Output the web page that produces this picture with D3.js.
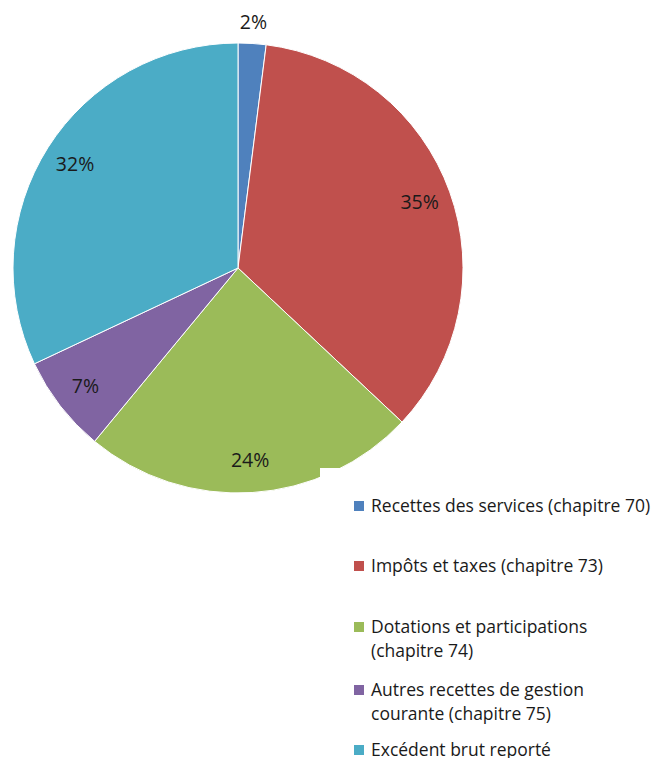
<!DOCTYPE html>
<html>
<head>
<meta charset="utf-8">
<script src="https://cdn.jsdelivr.net/npm/d3@7"></script>
<style>
  body { margin: 0; background: #fff; }
  text { font-family: "Open Sans", Lato, sans-serif; fill: #1a1a1a; }
</style>
</head>
<body>
<div id="chart"></div>
<script>
// data
var categories = ["Recettes des services (chapitre 70)", "Impôts et taxes (chapitre 73)",
    "Dotations et participations (chapitre 74)", "Autres recettes de gestion courante (chapitre 75)",
    "Excédent brut reporté"];
var values = [2, 35, 24, 7, 32];
var labels = ["2%", "35%", "24%", "7%", "32%"];
var legendLines = [["Recettes des services (chapitre 70)"], ["Impôts et taxes (chapitre 73)"],
    ["Dotations et participations", "(chapitre 74)"], ["Autres recettes de gestion", "courante (chapitre 75)"],
    ["Excédent brut reporté"]];
var colors = ["#4F81BD", "#C0504D", "#9BBB59", "#8064A2", "#4BACC6"];

function init() {
    var w = 660, h = 758;
    var cx = 238, cy = 268, r = 225;

    var svg = d3.select("#chart").append("svg")
        .attr("width", w).attr("height", h);

    var pie = d3.pie().sort(null).value(function (d) { return d; });
    var arcs = pie(values);
    var arc = d3.arc().innerRadius(0).outerRadius(r);

    var g = svg.append("g").attr("transform", "translate(" + cx + "," + cy + ")");

    g.selectAll("path").data(arcs).enter().append("path")
        .attr("d", arc)
        .attr("fill", function (d, i) { return colors[i]; })
        .attr("stroke", "#fff")
        .attr("stroke-width", 1);

    //labels: inside at r 193, small slice outside
    g.selectAll("text.lbl").data(arcs).enter().append("text")
        .attr("class", "lbl")
        .attr("transform", function (d) {
            var rr = (d.endAngle - d.startAngle) < 0.2 ? 246 : 193;
            var a = (d.startAngle + d.endAngle) / 2;
            return "translate(" + (Math.sin(a) * rr) + "," + (-Math.cos(a) * rr) + ")";
        })
        .attr("text-anchor", "middle")
        .attr("dy", "0.35em")
        .style("font-size", "19.5px")
        .text(function (d, i) { return labels[i]; });

    //legend box (white, sits over the pie)
    svg.append("rect")
        .attr("x", 320).attr("y", 468)
        .attr("width", w - 320).attr("height", h - 468)
        .attr("fill", "#fff");

    var rowY = [506, 566, 627, 690, 750];
    var leg = svg.append("g");
    categories.forEach(function (c, i) {
        leg.append("rect")
            .attr("x", 354).attr("y", rowY[i] - 5)
            .attr("width", 10).attr("height", 10)
            .attr("fill", colors[i]);
        var t = leg.append("text")
            .attr("x", 371).attr("y", rowY[i])
            .style("font-size", "17.5px");
        legendLines[i].forEach(function (line, j) {
            t.append("tspan").attr("x", 371).attr("dy", j === 0 ? "0.35em" : "24px").text(line);
        });
    });
}

window.onload = init;
</script>
</body>
</html>
